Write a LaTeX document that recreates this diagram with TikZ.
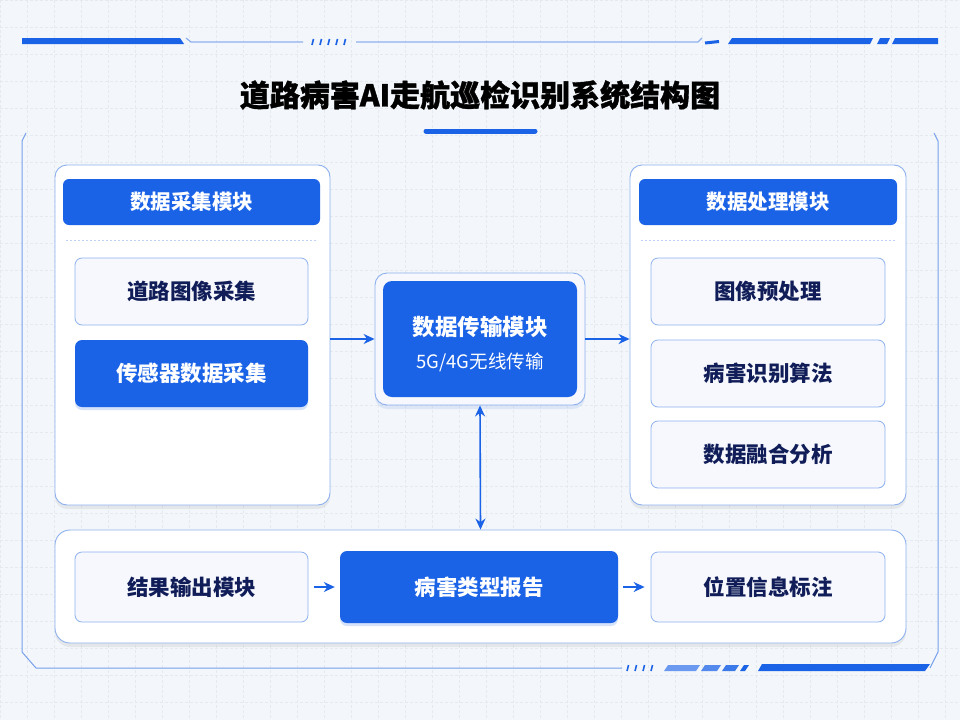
\documentclass[tikz,border=0pt]{standalone}
\usepackage{fontspec}
\setmainfont{Noto Sans CJK SC}
\newfontfamily\titlefont{Noto Sans CJK SC}[BoldFeatures={FakeBold=1.2}]
\usetikzlibrary{arrows.meta,shadows}
\definecolor{bgc}{HTML}{F3F6FA}
\definecolor{gridc}{HTML}{E5E9F0}
\definecolor{mblue}{HTML}{1A62E6}
\definecolor{lblue}{HTML}{8DB0EE}
\definecolor{pblue}{HTML}{BFD2F5}
\definecolor{navy}{HTML}{101D58}
\definecolor{itemfill}{HTML}{F6F8FD}
\tikzset{
  panel/.style={draw=lblue, line width=0.9pt, fill=white, rounded corners=12pt,
    drop shadow={opacity=0.10, shadow xshift=0pt, shadow yshift=-4pt, fill=black!60}},
  headbox/.style={fill=mblue, rounded corners=6pt, text=white, font=\bfseries\fontsize{20.5}{24}\selectfont},
  itembox/.style={draw=lblue, line width=0.8pt, fill=itemfill, rounded corners=7pt, text=navy, font=\bfseries\fontsize{21.5}{25}\selectfont,
    minimum width=233pt, minimum height=67pt},
  blueitem/.style={fill=mblue, rounded corners=7pt, text=white, font=\bfseries\fontsize{21.5}{25}\selectfont,
    drop shadow={opacity=0.18, shadow xshift=0pt, shadow yshift=-3pt, fill=mblue}},
  conn/.style={draw=mblue, line width=1.6pt, -{Stealth[length=11pt,width=10pt]}},
  dconn/.style={draw=mblue, line width=1.6pt, {Stealth[length=11pt,width=10pt]}-{Stealth[length=11pt,width=10pt]}},
  sepline/.style={draw=pblue, line width=0.8pt, dash pattern=on 2pt off 2pt},
}
\begin{document}
\begin{tikzpicture}[x=1pt,y=-1pt]
\useasboundingbox (0,0) rectangle (960,720);
\fill[bgc] (0,0) rectangle (960,720);
% grid
\foreach \gx in {0,27,...,960} {\draw[gridc, line width=0.5pt, dash pattern=on 3pt off 2pt] (\gx,0) -- (\gx,720);}
\foreach \gy in {0,27,...,720} {\draw[gridc, line width=0.5pt, dash pattern=on 3pt off 2pt] (0,\gy) -- (960,\gy);}

% top decoration
\fill[mblue] (22,38) -- (180,38) -- (184,44) -- (22,44) -- cycle;
\draw[lblue, line width=1.2pt] (186,38) -- (191,42) -- (303,42);
\foreach \dx in {312,320,328,336,344} {\draw[mblue, line width=1.6pt] (\dx,45) -- (\dx+1.5,39);}
\draw[lblue, line width=1.2pt] (356,42) -- (698,42) -- (702,38);
\draw[mblue, line width=3pt] (705,43) -- (719,41.5);
\fill[mblue] (728,44) -- (732,38) -- (873,38) -- (870,44) -- cycle;
\fill[mblue] (877,44) -- (880,38) -- (890,38) -- (887,44) -- cycle;
\fill[mblue] (892,44) -- (895,38) -- (938,38) -- (938,44) -- cycle;

% title
\node (title) at (480,95) {\titlefont\bfseries\fontsize{30}{36}\selectfont 道路病害AI走航巡检识别系统结构图};
\draw[mblue, line width=5pt, line cap=round] (426,131) -- (535,131);

% outer frame
\draw[lblue!80!mblue, line width=1pt] (26,133) -- (22,141) -- (22,652) -- (36,668) -- (622,668);
\draw[lblue!80!mblue, line width=1pt] (934,133) -- (938,141) -- (938,652) -- (930,668);
\foreach \dx in {627,635,643,651} {\draw[mblue, line width=1.6pt] (\dx,671) -- (\dx+1.5,665);}
\fill[mblue!65] (664,671) -- (668,665) -- (700,665) -- (696,671) -- cycle;
\fill[mblue!75] (701,671) -- (705,665) -- (721,665) -- (717,671) -- cycle;
\fill[mblue!85] (722,671) -- (726,665) -- (739,665) -- (735,671) -- cycle;
\fill[mblue] (740,671) -- (744,665) -- (749,665) -- (745,671) -- cycle;
\fill[mblue] (758,671) -- (762,664) -- (930,664) -- (925,671) -- cycle;

% left panel
\node[panel, minimum width=275pt, minimum height=340pt] (lp) at (192.5,335) {};
\node[headbox, minimum width=257pt, minimum height=46pt] (lh) at (191.5,202) {数据采集模块};
\draw[sepline] (66,240) -- (318,240);
\node[itembox] (l1) at (191.5,291.5) {道路图像采集};
\node[blueitem, minimum width=233pt, minimum height=67pt] (l2) at (191.5,373.5) {传感器数据采集};

% right panel
\node[panel, minimum width=276pt, minimum height=340pt] (rp) at (768,335) {};
\node[headbox, minimum width=258pt, minimum height=46pt] (rh) at (768,202) {数据处理模块};
\draw[sepline] (641,240) -- (895,240);
\node[itembox, minimum width=234pt] (r1) at (768,291.5) {图像预处理};
\node[itembox, minimum width=234pt] (r2) at (768,373.5) {病害识别算法};
\node[itembox, minimum width=234pt] (r3) at (768,454.5) {数据融合分析};

% center
\node[draw=lblue, line width=0.9pt, fill=itemfill, rounded corners=12pt, minimum width=210pt, minimum height=132pt,
  drop shadow={opacity=0.10, shadow xshift=0pt, shadow yshift=-4pt, fill=mblue}] (co) at (480,339) {};
\node[fill=mblue, rounded corners=9pt, minimum width=194pt, minimum height=116pt] (ci) at (480,339) {};
\node[text=white, font=\bfseries\fontsize{22.5}{26}\selectfont] (ct1) at (480,327) {数据传输模块};
\node[text=white, font=\fontsize{18.5}{22}\selectfont] (ct2) at (480,362) {5G/4G无线传输};

% bottom panel
\node[panel, rounded corners=15pt, minimum width=851pt, minimum height=113pt] (bp) at (480.5,586.5) {};
\node[itembox, minimum height=70pt] (b1) at (191.5,587) {结果输出模块};
\node[blueitem, minimum width=278pt, minimum height=72pt] (b2) at (479,587) {病害类型报告};
\node[itembox, minimum width=234pt, minimum height=70pt] (b3) at (768,587) {位置信息标注};

% connectors
\draw[conn] (lp.east |- co.west) -- (co.west);
\draw[conn] (co.east) -- (rp.west |- co.east);
\draw[dconn] (co.south) -- (bp.north);
\draw[conn, shorten <=6pt, shorten >=5pt] (b1.east) -- (b2.west);
\draw[conn, shorten <=5pt, shorten >=6pt] (b2.east) -- (b3.west);
\end{tikzpicture}
\end{document}
